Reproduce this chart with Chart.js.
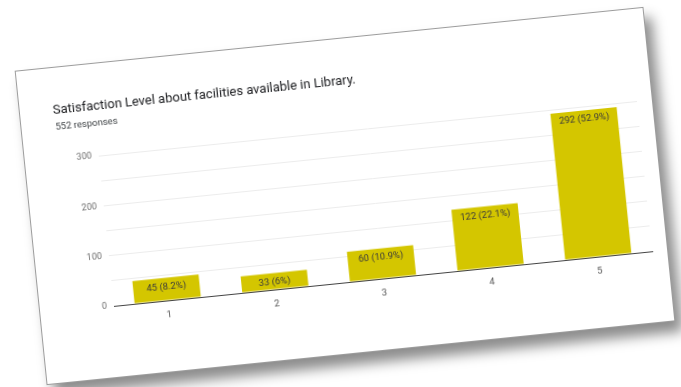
<!DOCTYPE html>
<html lang="en">
<head>
<meta charset="utf-8">
<title>Satisfaction Level</title>
<script src="https://cdn.jsdelivr.net/npm/chart.js@4.4.1/dist/chart.umd.min.js"></script>
<style>
    html, body { margin: 0; padding: 0; background: #fff; }
    body { width: 681px; height: 387px; position: relative; overflow: hidden; font-family: Roboto, "Noto Sans", sans-serif; }
    .tarjeta {
        position: absolute; left: 29px; top: 38px; width: 632px; height: 316px;
        box-sizing: border-box; background: #fff;
        border: 1.5px solid #9c9c9c;
        box-shadow: 7px 11px 12px rgba(0,0,0,0.45);
        transform: rotate(-5.8deg);
        filter: blur(0.35px);
    }
    .tarjeta canvas { position: absolute; left: 0; top: 0; }
    .titulo { position: absolute; left: 33px; top: 34px; font-size: 13px; line-height: 15px; color: #202124; white-space: nowrap; }
    .subtitulo { position: absolute; left: 34px; top: 53px; font-size: 9.5px; line-height: 12px; color: #3c4043; white-space: nowrap; }
</style>
</head>
<body>
<div class="tarjeta">
    <canvas id="graficaSatisfaccion" width="629" height="313"></canvas>
    <div class="titulo">Satisfaction Level about facilities available in Library.</div>
    <div class="subtitulo">552 responses</div>
</div>
<script>
// --- DATOS ---
const categorias = ['1', '2', '3', '4', '5'];
const respuestas = [45, 33, 60, 122, 292];
const porcentajes = ['8.2%', '6%', '10.9%', '22.1%', '52.9%'];
const ticksY = [0, 100, 200, 300];

// etiqueta "n (p%)" dentro de cada barra, arriba
const etiquetasBarras = {
    id: 'etiquetasBarras',
    afterDatasetsDraw(chart) {
        const ctx = chart.ctx;
        const meta = chart.getDatasetMeta(0);
        ctx.save();
        ctx.font = '9.5px Roboto, sans-serif';
        ctx.fillStyle = '#3a3a3a';
        ctx.textAlign = 'center';
        ctx.textBaseline = 'middle';
        meta.data.forEach((barra, i) => {
            ctx.fillText(`${respuestas[i]} (${porcentajes[i]})`, barra.x, barra.y + 9);
        });
        ctx.restore();
    }
};

new Chart(document.getElementById('graficaSatisfaccion'), {
    type: 'bar',
    data: {
        labels: categorias,
        datasets: [{
            data: respuestas,
            backgroundColor: '#d4c600',
            borderWidth: 0,
            categoryPercentage: 1,
            barPercentage: 0.615
        }]
    },
    options: {
        responsive: false,
        animation: false,
        layout: { padding: { top: 92, right: 14, left: 0, bottom: 0 } },
        plugins: {
            legend: { display: false },
            tooltip: { enabled: false }
        },
        scales: {
            y: {
                min: 0,
                max: 300,
                afterFit: s => { s.width = 74; },
                afterBuildTicks: s => {
                    // lineas cada 50, texto solo en los ticks de la lista
                    s.ticks = [0, 50, 100, 150, 200, 250, 300].map(v => ({ value: v }));
                },
                ticks: {
                    padding: 7,
                    color: '#6f6f6f',
                    font: { family: 'Roboto', size: 9 },
                    callback: v => ticksY.includes(v) ? v : ''
                },
                grid: { color: '#ececec', drawTicks: false },
                border: { display: false }
            },
            x: {
                afterFit: s => { s.height = 70; },
                ticks: {
                    padding: 1,
                    color: '#555',
                    font: { family: 'Roboto', size: 9.5 }
                },
                grid: { display: false },
                border: { color: '#444', width: 1 }
            }
        }
    },
    plugins: [etiquetasBarras]
});
</script>
</body>
</html>
